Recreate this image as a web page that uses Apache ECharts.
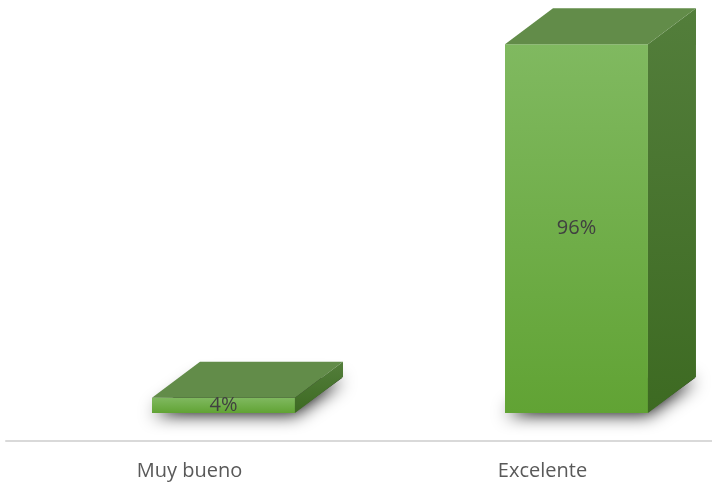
<!DOCTYPE html>
<html>
<head>
<meta charset="utf-8">
<script src="https://cdn.jsdelivr.net/npm/echarts@6/dist/echarts.min.js"></script>
<style>
  html, body { margin: 0; padding: 0; background: #ffffff; }
  #chart { width: 712px; height: 482px; }
</style>
</head>
<body>
<div id="chart"></div>
<script>
// Rating categories and their share of responses (%)
const categories = ['Muy bueno', 'Excelente'];
const shares = [4, 96];

const chart = echarts.init(document.getElementById('chart'), null, { renderer: 'canvas' });

// Draws one extruded box: soft floor shadow, front face, right side face and top face
function renderBox(params, api) {
  const idx = api.value(0);
  const val = api.value(1);
  const base = api.coord([idx, 0]);
  const top = api.coord([idx, val]);
  const band = api.size([1, 0])[0];

  const x0 = base[0] - band * 0.0864;
  const x1 = x0 + band * 0.405;
  const yb = base[1];
  const yt = top[1];
  const dx = band * 0.136;
  const dy = 36;

  return {
    type: 'group',
    children: [
      {
        // footprint hidden behind the box; only its blurred shadow leaks out
        type: 'polygon',
        shape: { points: [[x0 + 1, yb - 1], [x1, yb - 1], [x1 + dx - 1, yb - dy + 1], [x0 + dx, yb - dy + 1]] },
        style: {
          fill: '#222222',
          shadowBlur: 18,
          shadowColor: 'rgba(0,0,0,1)',
          shadowOffsetY: 2
        },
        z2: 0
      },
      {
        type: 'polygon',
        shape: { points: [[x0, yt], [x1, yt], [x1, yb], [x0, yb]] },
        style: {
          fill: {
            type: 'linear', x: 0, y: 0, x2: 0, y2: 1,
            colorStops: [
              { offset: 0, color: '#80b960' },
              { offset: 1, color: '#61a334' }
            ]
          }
        },
        z2: 1
      },
      {
        type: 'polygon',
        shape: { points: [[x1, yt], [x1 + dx, yt - dy], [x1 + dx, yb - dy], [x1, yb]] },
        style: {
          fill: {
            type: 'linear', x: 0, y: 0, x2: 0, y2: 1,
            colorStops: [
              { offset: 0, color: '#537e3b' },
              { offset: 1, color: '#3d6a22' }
            ]
          }
        },
        z2: 2
      },
      {
        type: 'polygon',
        shape: { points: [[x0, yt], [x0 + dx, yt - dy], [x1 + dx, yt - dy], [x1, yt]] },
        style: { fill: '#628c49' },
        z2: 3
      },
      {
        type: 'text',
        style: {
          x: (x0 + x1) / 2,
          y: (yt + yb) / 2,
          text: val + '%',
          fill: '#404040',
          font: '20px "Open Sans", sans-serif',
          align: 'center',
          verticalAlign: 'middle'
        },
        z2: 4
      }
    ]
  };
}

chart.setOption({
  animation: false,
  backgroundColor: '#ffffff',
  grid: { left: 6, right: 0, top: 29, bottom: 69 },
  xAxis: {
    type: 'category',
    data: categories,
    offset: 28,
    axisLine: { show: true, onZero: false, lineStyle: { color: '#d9d9d9', width: 2 } },
    axisTick: { show: false },
    axisLabel: {
      color: '#595959',
      fontSize: 20,
      fontFamily: 'Open Sans',
      margin: 20,
      padding: [0, 0, 0, 14]
    }
  },
  yAxis: {
    type: 'value',
    min: 0,
    max: 100,
    show: false,
    splitLine: { show: false }
  },
  series: [{
    type: 'custom',
    renderItem: renderBox,
    data: shares.map((v, i) => [i, v]),
    encode: { x: 0, y: 1 },
    clip: false
  }]
});
</script>
</body>
</html>
